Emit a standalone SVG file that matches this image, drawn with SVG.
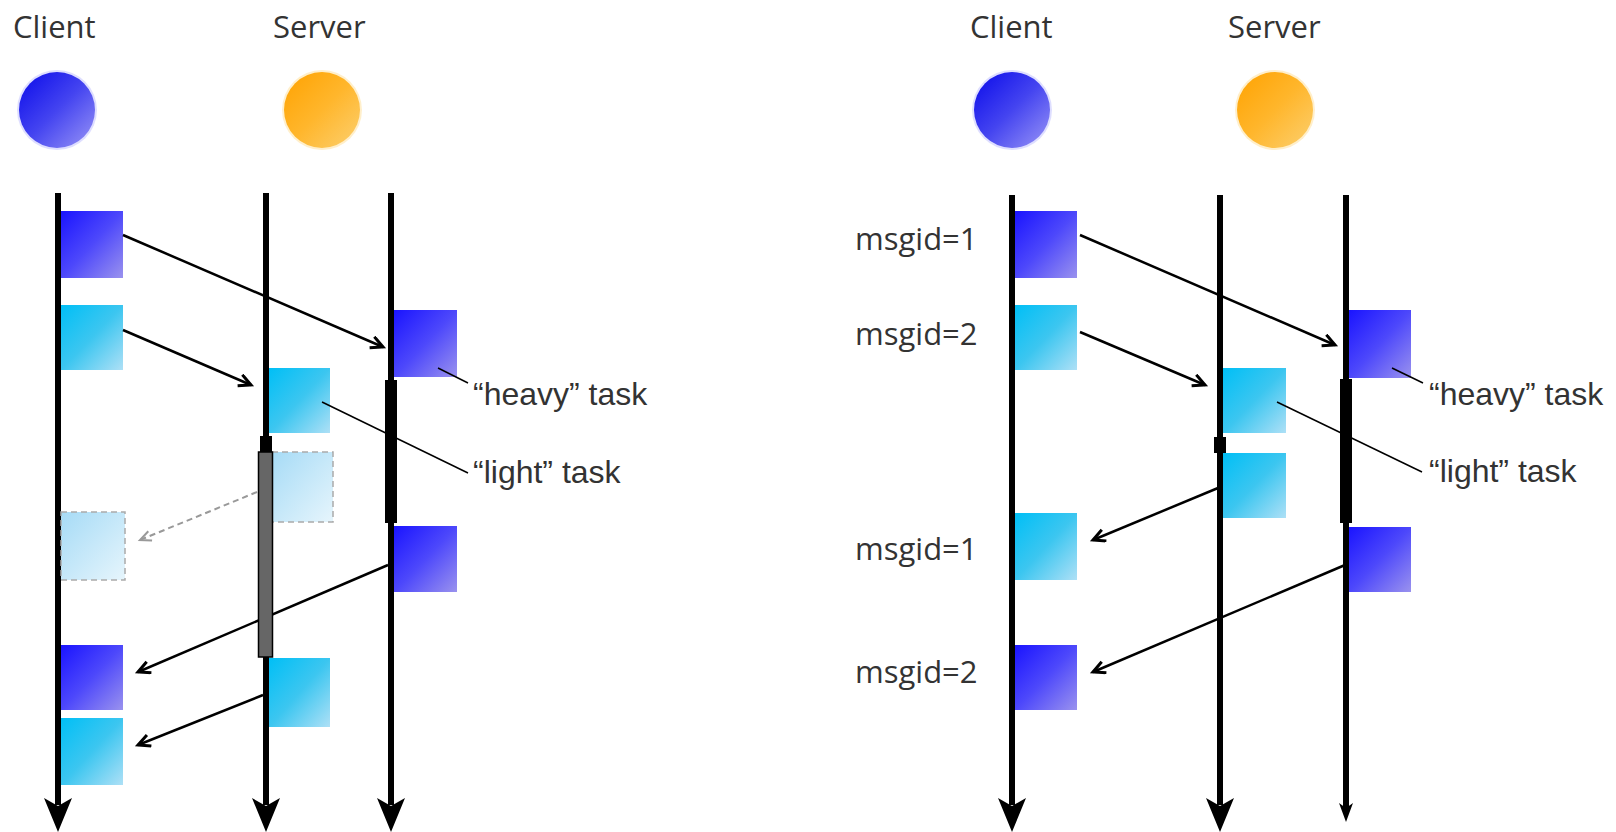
<svg xmlns="http://www.w3.org/2000/svg" width="1616" height="832" viewBox="0 0 1616 832">
<defs>
<linearGradient id="gBlue" x1="0" y1="0" x2="1" y2="1"><stop offset="0" stop-color="#1a14ff"/><stop offset="0.5" stop-color="#4d48fb"/><stop offset="1" stop-color="#9a92ee"/></linearGradient>
<linearGradient id="gCyan" x1="0" y1="0" x2="1" y2="1"><stop offset="0" stop-color="#00bff6"/><stop offset="0.5" stop-color="#3cc6f0"/><stop offset="1" stop-color="#aee0f6"/></linearGradient>
<linearGradient id="gGhost" x1="0" y1="0" x2="1" y2="1"><stop offset="0" stop-color="#a6dbf6"/><stop offset="1" stop-color="#e6f5fc"/></linearGradient>
<linearGradient id="gCircB" x1="0" y1="0" x2="1" y2="1"><stop offset="0" stop-color="#0a0aea"/><stop offset="0.5" stop-color="#4444f0"/><stop offset="1" stop-color="#9a96f6"/></linearGradient>
<linearGradient id="gCircO" x1="0" y1="0" x2="1" y2="1"><stop offset="0" stop-color="#ffa200"/><stop offset="0.5" stop-color="#ffb62c"/><stop offset="1" stop-color="#fcd070"/></linearGradient>
<marker id="ah" markerUnits="userSpaceOnUse" markerWidth="18" markerHeight="18" refX="13" refY="7" orient="auto"><path d="M1,1 L13,7 L1,13" fill="none" stroke="#000" stroke-width="3"/></marker>
<marker id="ahg" markerUnits="userSpaceOnUse" markerWidth="18" markerHeight="18" refX="12" refY="6" orient="auto"><path d="M1,1 L12,6 L1,11" fill="none" stroke="#999" stroke-width="2"/></marker>
</defs>
<style>
.life{stroke:#000;stroke-width:6;fill:none}
.head{fill:#000}
.blue{fill:url(#gBlue)}
.cyan{fill:url(#gCyan)}
.ghost{fill:url(#gGhost);stroke:#aaa;stroke-width:1.5;stroke-dasharray:6 4}
.msg{stroke:#000;stroke-width:2.5;fill:none;marker-end:url(#ah)}
.dmsg{stroke:#999;stroke-width:2;stroke-dasharray:6 4;fill:none;marker-end:url(#ahg)}
.lead{stroke:#000;stroke-width:1.5;fill:none}
.bar{fill:#000}
.gbar{fill:#666;stroke:#000;stroke-width:1.5}
.hdr{font-family:"Open Sans","Noto Sans",sans-serif;font-size:31px;fill:#333}
.mid{font-family:"Open Sans","Noto Sans",sans-serif;font-size:31px;fill:#333}
.task{font-family:"Liberation Sans",Arial,sans-serif;font-size:32px;fill:#333}
</style>
<rect width="1616" height="832" fill="#fff"/>

<!-- LEFT DIAGRAM -->
<g id="L-client-head"><text class="hdr" x="13" y="38">Client</text><circle cx="57" cy="110" r="40" fill="#c8c8ff" opacity="0.6"/><circle cx="57" cy="110" r="38" fill="url(#gCircB)"/></g>
<g id="L-server-head"><text class="hdr" x="273" y="38">Server</text><circle cx="322" cy="110" r="40" fill="#ffe4a8" opacity="0.6"/><circle cx="322" cy="110" r="38" fill="url(#gCircO)"/></g>
<g id="L-client-line"><line class="life" x1="58" y1="193" x2="58" y2="805"/><path class="head" d="M44,798 L58,832 L72,798 L58,806 Z"/></g>
<g id="L-server1-line"><line class="life" x1="266" y1="193" x2="266" y2="805"/><path class="head" d="M252,798 L266,832 L280,798 L266,806 Z"/></g>
<g id="L-server2-line"><line class="life" x1="391" y1="193" x2="391" y2="805"/><path class="head" d="M377,798 L391,832 L405,798 L391,806 Z"/></g>

<g id="L-c-msg1"><rect class="blue" x="61" y="211" width="62" height="67"/></g>
<g id="L-c-msg2"><rect class="cyan" x="61" y="305" width="62" height="65"/></g>
<g id="L-heavy"><rect class="blue" x="394" y="310" width="63" height="67"/></g>
<g id="L-light"><rect class="cyan" x="269" y="368" width="61" height="65"/></g>
<g id="L-ghost-server"><rect class="ghost" x="272" y="452" width="61" height="70"/></g>
<g id="L-ghost-client"><rect class="ghost" x="61" y="512" width="64" height="68"/></g>
<g id="L-heavy-ret"><rect class="blue" x="394" y="526" width="63" height="66"/></g>
<g id="L-light-ret"><rect class="cyan" x="269" y="658" width="61" height="69"/></g>
<g id="L-c-ret1"><rect class="blue" x="61" y="645" width="62" height="65"/></g>
<g id="L-c-ret2"><rect class="cyan" x="61" y="718" width="62" height="67"/></g>

<g id="L-heavy-label"><text class="task" x="473" y="405">“heavy” task</text></g>
<g id="L-light-label"><text class="task" x="473" y="483">“light” task</text></g>

<!-- RIGHT DIAGRAM -->
<g id="R-client-head"><text class="hdr" x="970" y="38">Client</text><circle cx="1012" cy="110" r="40" fill="#c8c8ff" opacity="0.6"/><circle cx="1012" cy="110" r="38" fill="url(#gCircB)"/></g>
<g id="R-server-head"><text class="hdr" x="1228" y="38">Server</text><circle cx="1275" cy="110" r="40" fill="#ffe4a8" opacity="0.6"/><circle cx="1275" cy="110" r="38" fill="url(#gCircO)"/></g>
<g id="R-client-line"><line class="life" x1="1012" y1="195" x2="1012" y2="805"/><path class="head" d="M998,798 L1012,832 L1026,798 L1012,806 Z"/></g>
<g id="R-server1-line"><line class="life" x1="1220" y1="195" x2="1220" y2="805"/><path class="head" d="M1206,798 L1220,832 L1234,798 L1220,806 Z"/></g>
<g id="R-server2-line"><line class="life" x1="1346" y1="195" x2="1346" y2="808"/><path class="head" d="M1339,803 L1346,822 L1353,803 L1346,808 Z"/></g>

<g id="R-msgid1"><text class="mid" x="855" y="250">msgid=1</text><rect class="blue" x="1015" y="211" width="62" height="67"/></g>
<g id="R-msgid2"><text class="mid" x="855" y="345">msgid=2</text><rect class="cyan" x="1015" y="305" width="62" height="65"/></g>
<g id="R-light"><rect class="cyan" x="1223" y="368" width="63" height="65"/></g>
<g id="R-light-ret"><rect class="cyan" x="1223" y="453" width="63" height="65"/></g>
<g id="R-heavy"><rect class="blue" x="1349" y="310" width="62" height="68"/></g>
<g id="R-heavy-ret"><rect class="blue" x="1349" y="527" width="62" height="65"/></g>
<g id="R-ret1"><text class="mid" x="855" y="560">msgid=1</text><rect class="cyan" x="1015" y="513" width="62" height="67"/></g>
<g id="R-ret2"><text class="mid" x="855" y="683">msgid=2</text><rect class="blue" x="1015" y="645" width="62" height="65"/></g>

<g id="R-heavy-label"><text class="task" x="1429" y="405">“heavy” task</text></g>
<g id="R-light-label"><text class="task" x="1429" y="482">“light” task</text></g>

<!-- CONNECTORS -->
<g id="connectors">
<line class="msg" x1="123" y1="235" x2="383" y2="347"/>
<line class="msg" x1="123" y1="330" x2="251" y2="385"/>
<line class="dmsg" x1="257" y1="492" x2="140" y2="540"/>
<line class="msg" x1="388" y1="565" x2="138" y2="672"/>
<line class="msg" x1="263" y1="695" x2="138" y2="745"/>
<line class="lead" x1="438" y1="368" x2="468" y2="383"/>
<line class="lead" x1="322" y1="402" x2="468" y2="473"/>

<line class="msg" x1="1080" y1="235" x2="1335" y2="345"/>
<line class="msg" x1="1080" y1="332" x2="1205" y2="385"/>
<line class="msg" x1="1218" y1="488" x2="1093" y2="540"/>
<line class="msg" x1="1345" y1="565" x2="1093" y2="672"/>
<line class="lead" x1="1392" y1="368" x2="1423" y2="383"/>
<line class="lead" x1="1277" y1="402" x2="1422" y2="472"/>
</g>

<!-- activation bars -->
<g id="L-bars">
<rect class="bar" x="385" y="380" width="12" height="143"/>
<rect class="bar" x="260" y="436" width="12" height="17"/>
<rect class="gbar" x="258.5" y="452" width="14" height="205"/>
</g>
<g id="R-bars">
<rect class="bar" x="1214" y="437" width="12" height="16"/>
<rect class="bar" x="1340" y="379" width="12" height="144"/>
</g>
</svg>
